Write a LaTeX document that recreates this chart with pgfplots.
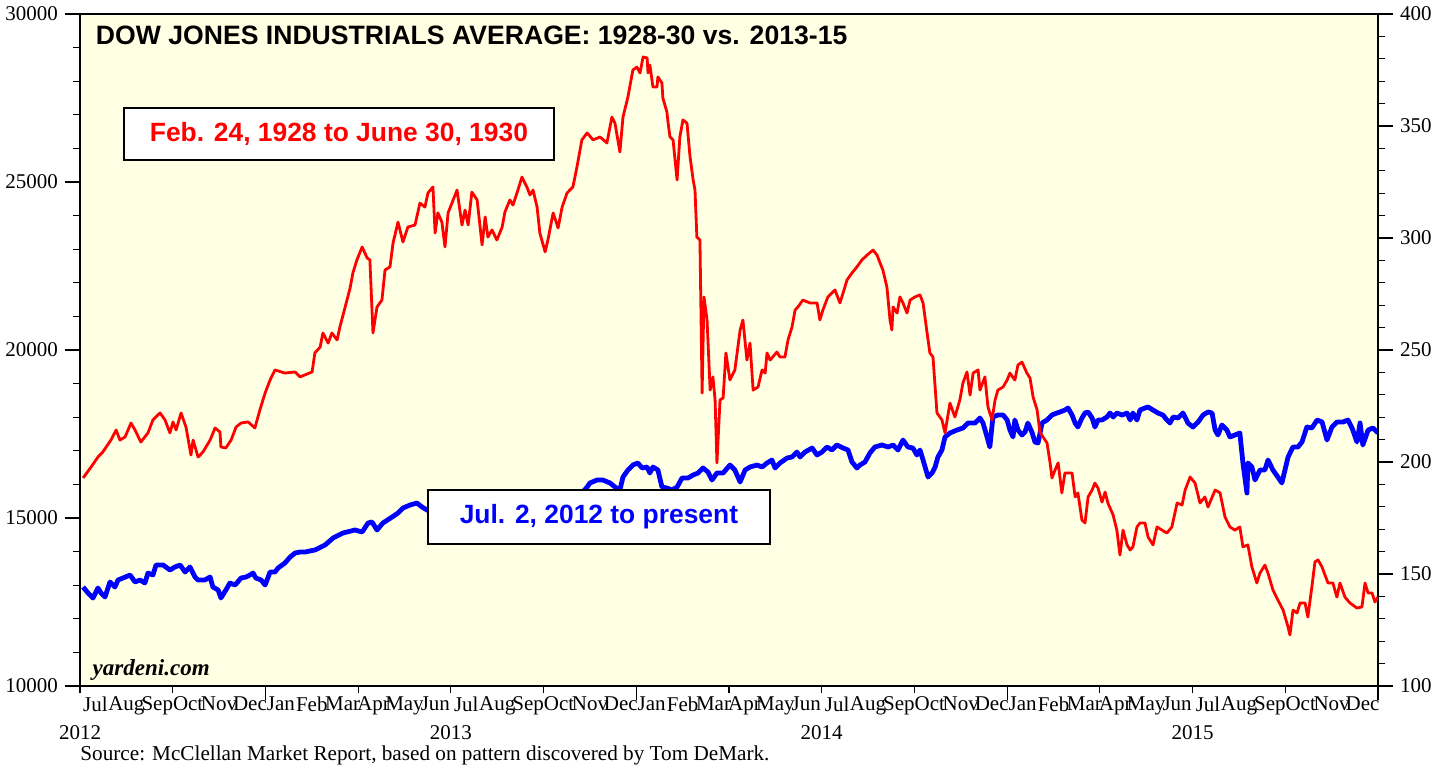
\documentclass[border=0pt]{standalone}
\usepackage{pgfplots}
\pgfplotsset{compat=1.18}
\usepackage{fontspec}
\setmainfont{Liberation Serif}
\newfontfamily\arialb[Scale=1]{Liberation Sans}
\definecolor{bgy}{RGB}{255,255,228}
\definecolor{lred}{RGB}{255,0,0}
\definecolor{lblue}{RGB}{0,0,255}

\pgfplotstableread{
m v
0.10 12946
0.26 12768
0.42 12619
0.58 12917
0.68 12768
0.81 12649
0.97 13095
1.13 12946
1.23 13155
1.39 13214
1.62 13304
1.78 13095
1.94 13155
2.10 13065
2.20 13363
2.36 13304
2.46 13601
2.69 13601
2.91 13452
3.07 13542
3.24 13601
3.40 13393
3.56 13542
3.72 13244
3.82 13155
4.04 13155
4.21 13244
4.30 12946
4.47 12857
4.56 12619
4.72 12857
4.85 13065
5.02 13006
5.21 13214
5.37 13244
5.50 13304
5.60 13363
5.69 13214
5.86 13155
5.99 13006
6.15 13393
6.31 13393
6.41 13512
6.63 13661
6.80 13839
6.96 13958
7.12 13988
7.28 13988
7.60 14048
7.93 14196
8.19 14405
8.51 14554
8.90 14643
9.13 14583
9.32 14851
9.45 14881
9.61 14643
9.80 14851
10.10 15030
10.29 15149
10.45 15298
10.68 15387
10.90 15446
11.07 15327
11.23 15238
11.50 15100
11.77 14700
12.00 14950
12.30 15250
12.70 15550
13.00 15500
13.30 15450
13.70 15000
13.97 14800
14.20 14950
14.60 15650
14.90 15250
15.25 14800
15.55 15350
15.90 15600
16.20 15700
16.41 15923
16.50 16042
16.73 16131
16.92 16131
17.15 16042
17.31 15923
17.47 15833
17.57 16220
17.73 16429
17.89 16577
18.05 16637
18.19 16488
18.35 16518
18.44 16339
18.54 16518
18.70 16429
18.83 15923
18.99 15893
19.16 15833
19.32 15923
19.48 16190
19.67 16190
19.84 16280
20.00 16339
20.16 16488
20.32 16369
20.45 16131
20.61 16339
20.81 16339
21.03 16577
21.19 16429
21.36 16071
21.52 16429
21.68 16518
21.91 16577
22.07 16518
22.23 16637
22.39 16726
22.49 16488
22.65 16637
22.88 16786
23.04 16815
23.20 16964
23.30 16815
23.46 16964
23.69 17083
23.85 16875
24.01 16964
24.17 17113
24.33 17024
24.49 17173
24.69 17083
24.85 17024
24.98 16667
25.14 16488
25.24 16577
25.40 16667
25.56 16935
25.72 17113
25.95 17173
26.15 17113
26.31 17173
26.47 17024
26.63 17321
26.79 17113
26.95 17083
27.08 16875
27.18 17024
27.28 16726
27.44 16220
27.57 16339
27.67 16518
27.76 16815
27.89 17024
27.99 17411
28.15 17530
28.38 17619
28.57 17679
28.73 17827
28.96 17827
29.12 17976
29.22 17827
29.35 17411
29.44 17113
29.54 18006
29.70 18065
29.87 18065
30.00 17917
30.09 17619
30.19 17411
30.25 17917
30.35 17619
30.48 17470
30.58 17560
30.67 17827
30.80 17560
30.90 17262
31.00 17232
31.13 17827
31.29 17917
31.45 18065
31.61 18125
31.71 18155
31.87 18214
31.97 18274
32.10 18065
32.20 17827
32.29 17708
32.42 17976
32.52 18125
32.62 18155
32.75 17976
32.84 17708
32.94 17917
33.07 17917
33.23 18006
33.33 18125
33.43 18006
33.55 18125
33.72 18065
33.88 18125
33.98 17917
34.07 18125
34.20 17917
34.30 18214
34.46 18274
34.56 18304
34.72 18214
34.88 18125
35.04 18065
35.17 17917
35.27 17827
35.37 18006
35.53 17976
35.69 18125
35.85 17827
36.01 17708
36.18 17857
36.34 18065
36.50 18155
36.63 18125
36.73 17619
36.82 17470
36.95 17768
37.11 17619
37.21 17411
37.37 17470
37.53 17530
37.63 16637
37.76 15744
37.79 16637
37.92 16518
38.02 16131
38.18 16429
38.34 16429
38.44 16726
38.60 16429
38.76 16220
38.89 16042
38.99 16429
39.09 16815
39.25 17113
39.41 17113
39.54 17262
39.70 17708
39.86 17679
40.03 17917
40.19 17857
40.35 17321
40.51 17708
40.67 17857
40.87 17857
41.03 17917
41.16 17679
41.32 17262
41.42 17827
41.51 17173
41.68 17619
41.84 17679
42.00 17530
}\bluedata

\pgfplotstableread{
m v
0.10 192.9
0.36 197.8
0.58 202.2
0.74 204.5
1.00 209.8
1.17 214.3
1.29 209.8
1.46 211.2
1.65 217.4
1.78 214.3
1.97 208.9
2.20 213.0
2.36 218.8
2.59 221.9
2.75 218.8
2.91 213.0
3.01 217.9
3.11 214.3
3.27 221.9
3.43 215.6
3.59 203.1
3.66 209.8
3.82 202.2
3.98 204.5
4.21 209.8
4.37 215.2
4.53 213.4
4.56 206.7
4.72 206.3
4.89 209.8
5.05 215.6
5.21 217.4
5.44 217.9
5.66 215.2
5.82 223.2
5.99 230.8
6.15 236.6
6.31 241.1
6.63 239.7
6.96 240.2
7.12 238.0
7.51 240.2
7.60 248.7
7.77 251.3
7.86 257.6
8.03 253.1
8.15 257.6
8.32 254.5
8.41 260.3
8.58 269.2
8.74 277.7
8.83 284.4
8.96 290.2
9.13 296.0
9.29 291.1
9.38 290.2
9.48 257.6
9.61 269.2
9.77 272.3
9.87 285.7
10.03 287.1
10.13 297.8
10.29 307.1
10.45 298.2
10.61 304.9
10.84 305.8
11.00 315.6
11.16 313.8
11.26 320.1
11.42 322.8
11.49 302.2
11.58 311.2
11.71 307.1
11.81 296.0
11.91 311.2
12.20 321.4
12.36 305.8
12.46 312.5
12.56 305.8
12.68 320.5
12.85 317.0
13.01 296.9
13.11 309.4
13.20 300.4
13.33 303.6
13.49 299.1
13.66 304.9
13.75 311.6
13.91 317.0
14.01 314.7
14.17 321.4
14.30 327.2
14.46 322.8
14.56 319.2
14.66 321.4
14.79 313.8
14.88 302.2
15.05 293.8
15.14 299.1
15.31 311.2
15.47 304.5
15.60 313.8
15.76 320.1
15.95 322.8
16.08 331.7
16.24 343.8
16.41 346.9
16.60 343.8
16.83 345.1
17.05 342.4
17.21 354.0
17.31 351.3
17.47 338.4
17.57 354.0
17.73 363.0
17.89 375.0
18.02 376.3
18.12 373.7
18.22 380.8
18.35 380.4
18.38 373.7
18.44 377.2
18.54 367.4
18.67 367.4
18.70 371.9
18.83 369.2
18.86 362.5
18.99 356.3
19.03 351.3
19.09 345.1
19.19 343.8
19.32 325.9
19.41 345.1
19.51 352.7
19.64 351.3
19.74 336.2
19.84 325.9
19.90 321.4
19.96 300.4
20.06 299.1
20.13 230.8
20.19 273.7
20.29 263.4
20.39 232.1
20.48 238.0
20.55 227.7
20.61 199.6
20.71 227.7
20.81 228.6
20.90 248.7
21.03 236.6
21.19 241.1
21.36 258.9
21.45 263.4
21.58 245.5
21.68 253.1
21.78 232.1
21.94 233.5
22.07 241.1
22.17 239.7
22.23 248.7
22.33 245.5
22.55 249.1
22.65 246.9
22.81 246.9
22.91 254.5
23.04 260.3
23.14 267.9
23.23 269.2
23.39 272.3
23.62 271.0
23.85 271.0
23.94 263.4
24.04 267.9
24.20 273.7
24.43 276.8
24.59 271.0
24.69 275.4
24.82 281.3
24.98 284.4
25.14 287.1
25.30 290.2
25.47 292.4
25.66 294.6
25.79 292.4
25.89 288.8
25.98 285.7
26.11 278.1
26.21 263.4
26.27 258.9
26.31 269.2
26.44 266.5
26.53 273.7
26.63 271.0
26.76 266.5
26.86 272.3
27.02 273.7
27.18 274.6
27.28 271.0
27.41 257.6
27.50 248.7
27.60 246.9
27.73 221.9
27.89 218.8
27.99 213.0
28.15 226.3
28.31 220.1
28.47 227.7
28.57 235.3
28.70 240.2
28.80 229.9
28.90 239.7
29.06 241.1
29.12 232.1
29.28 238.0
29.38 224.6
29.51 218.8
29.61 227.7
29.70 232.1
29.87 233.5
30.00 236.6
30.09 239.7
30.25 236.6
30.35 243.3
30.48 244.6
30.64 239.7
30.74 237.5
30.84 229.0
30.97 223.2
31.06 213.4
31.16 211.2
31.29 208.5
31.39 199.6
31.45 192.9
31.55 196.4
31.65 199.6
31.77 186.2
31.87 195.1
32.10 195.1
32.20 184.4
32.29 186.2
32.42 174.1
32.52 172.8
32.62 184.4
32.75 187.5
32.84 190.6
32.94 188.4
33.07 182.1
33.17 186.6
33.26 181.7
33.43 176.3
33.55 169.6
33.65 158.5
33.75 169.6
33.88 163.0
33.98 160.7
34.07 162.1
34.20 171.0
34.30 172.8
34.46 172.8
34.56 166.5
34.72 163.0
34.85 171.0
35.01 169.6
35.17 168.3
35.33 171.0
35.50 181.7
35.66 180.8
35.76 187.5
35.92 193.3
36.08 190.6
36.24 181.7
36.40 184.4
36.50 179.9
36.73 187.5
36.89 186.2
37.05 175.4
37.21 171.0
37.37 169.6
37.53 171.0
37.63 162.1
37.79 163.0
37.92 153.1
38.08 146.0
38.18 150.4
38.34 154.0
38.44 150.4
38.60 142.9
38.76 138.4
38.93 133.9
39.09 126.3
39.15 122.8
39.25 133.9
39.38 132.6
39.48 137.1
39.64 137.1
39.73 130.8
39.86 144.2
39.96 155.4
40.06 156.3
40.19 153.1
40.38 146.0
40.54 146.0
40.67 139.7
40.77 146.0
40.93 139.7
41.09 137.1
41.32 134.8
41.48 135.3
41.58 146.0
41.68 141.5
41.81 141.5
41.90 137.5
42.00 139.7
}\reddata

\begin{document}
\begin{tikzpicture}
\pgfplotsset{
  common/.style={
    at={(0,0)}, anchor=south west, scale only axis,
    width=649pt, height=336pt, xmin=0, xmax=42,
    tick align=outside,
    tick style={black, line width=0.6pt},
    ticklabel style={font=\fontsize{10.5}{12}\selectfont},
    /pgf/number format/assume math mode=true,
  }
}
% base axis: background, frame, left ticks, blue series
\begin{axis}[common, name=A,
  ymin=10000, ymax=30000,
  axis background/.style={fill=bgy},
  axis line style={line width=1.4pt},
  xtick=\empty,
  ytick={10000,15000,20000,25000,30000},
  yticklabels={10000,15000,20000,25000,30000},
  minor y tick num=4,
  ytick pos=left,
  major tick length=7.5pt, minor tick length=3.5pt,
  clip=true,
]
\addplot[lblue, line width=2.4pt, line join=round] table[x=m,y=v] {\bluedata};
\node[anchor=north west, inner sep=0pt, font=\arialb\bfseries\fontsize{13.3}{15}\selectfont]
  at (rel axis cs:0.012,0.983) {DOW JONES INDUSTRIALS AVERAGE: 1928-30 vs. 2013-15};
\node[anchor=base west, inner sep=0pt, font=\bfseries\itshape\fontsize{11.5}{13}\selectfont]
  at (rel axis cs:0.0095,0.016) {yardeni.com};
\end{axis}
% right axis with red series and labels
\begin{axis}[common,
  ymin=100, ymax=400,
  axis x line=none, xtick=\empty,
  axis y line*=right,
  y axis line style={line width=1.4pt},
  ytick={100,150,200,250,300,350,400},
  yticklabels={100,150,200,250,300,350,400},
  minor y tick num=4,
  major tick length=7.5pt, minor tick length=3.5pt,
]
\addplot[lred, line width=1.4pt, line join=round] table[x=m,y=v] {\reddata};
\node[draw=black, line width=1pt, fill=white, minimum width=215pt, minimum height=26pt,
  text=lred, font=\arialb\bfseries\fontsize{13.2}{15}\selectfont]
  at (rel axis cs:0.1995,0.8214) {Feb. 24, 1928 to June 30, 1930};
\node[draw=black, line width=1pt, fill=white, minimum width=171pt, minimum height=27pt,
  text=lblue, font=\arialb\bfseries\fontsize{13.2}{15}\selectfont]
  at (rel axis cs:0.3998,0.2515) {Jul. 2, 2012 to present};
\end{axis}
% quarterly ticks
\begin{axis}[common, ymin=0, ymax=1, ytick=\empty,
  hide y axis, axis x line*=bottom,
  x axis line style={line width=1.4pt},
  xtick={0,3,...,42}, xticklabel=\empty,
  major tick length=3.5pt,
]
\end{axis}
% January ticks (longer)
\begin{axis}[common, ymin=0, ymax=1, ytick=\empty,
  hide y axis, axis x line*=bottom,
  x axis line style={draw=none},
  xtick={6,18,30,42}, xticklabel=\empty,
  major tick length=7pt,
]
\end{axis}
% month and year labels
\begin{axis}[common, ymin=0, ymax=1, ytick=\empty,
  hide y axis, axis x line*=bottom,
  x axis line style={draw=none},
  xtick={0.5,1.5,...,41.5},
  xticklabels={Jul,Aug,Sep,Oct,Nov,Dec,
    Jan,Feb,Mar,Apr,May,Jun,Jul,Aug,Sep,Oct,Nov,Dec,
    Jan,Feb,Mar,Apr,May,Jun,Jul,Aug,Sep,Oct,Nov,Dec,
    Jan,Feb,Mar,Apr,May,Jun,Jul,Aug,Sep,Oct,Nov,Dec},
  major tick length=0pt,
  xticklabel style={yshift=-2pt},
  extra x ticks={0,12,24,36},
  extra x tick labels={2012,2013,2014,2015},
  extra x tick style={xticklabel style={yshift=-14pt}},
]
\end{axis}
\node[anchor=base west, inner sep=0pt, font=\fontsize{10.6}{12}\selectfont]
  at ([yshift=-37pt]A.south west) {Source: McClellan Market Report, based on pattern discovered by Tom DeMark.};
\pgfresetboundingbox
\path[use as bounding box] (-40pt,-41pt) rectangle (683.5pt,343pt);
\end{tikzpicture}
\end{document}
